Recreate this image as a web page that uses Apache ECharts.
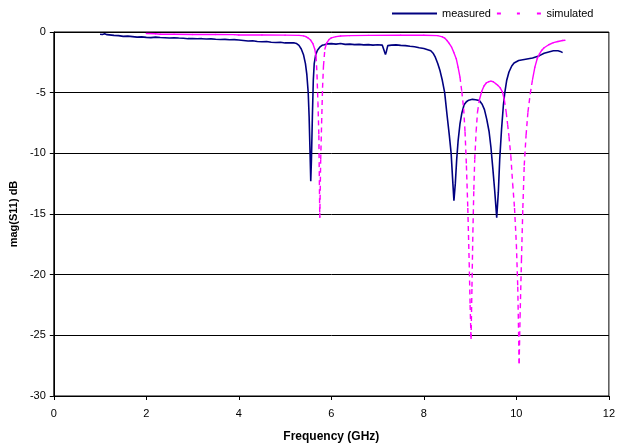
<!DOCTYPE html>
<html>
<head>
<meta charset="utf-8">
<script src="https://cdn.jsdelivr.net/npm/echarts@6/dist/echarts.min.js"></script>
<style>html,body{margin:0;padding:0;background:#fff}#c{width:618px;height:448px}</style>
</head>
<body>
<div id="c"></div>
<script>
// ---- data ----
var xTicks = [0, 2, 4, 6, 8, 10, 12];
var yTicks = [0, -5, -10, -15, -20, -25, -30];

var measFreq = [1.00,1.05,1.10,1.15,1.20,1.30,1.40,1.50,1.60,1.70,1.80,1.90,2.00,2.10,2.20,2.30,2.40,2.50,2.60,2.70,2.80,2.90,3.00,3.10,3.20,3.30,3.40,3.50,3.60,3.70,3.80,3.90,4.00,4.10,4.20,4.30,4.40,4.50,4.60,4.70,4.80,4.90,5.00,5.10,5.20,5.25,5.30,5.35,5.40,5.44,5.47,5.50,5.52,5.54,5.555,5.57,5.59,5.61,5.63,5.66,5.70,5.75,5.80,5.85,5.90,6.00,6.10,6.20,6.30,6.40,6.50,6.60,6.70,6.80,6.90,7.00,7.10,7.14,7.17,7.19,7.22,7.30,7.40,7.50,7.60,7.70,7.80,7.90,8.00,8.10,8.15,8.20,8.25,8.30,8.35,8.40,8.45,8.50,8.55,8.59,8.62,8.65,8.68,8.71,8.74,8.78,8.82,8.87,8.92,8.97,9.05,9.12,9.20,9.26,9.31,9.36,9.41,9.45,9.49,9.53,9.575,9.61,9.64,9.68,9.72,9.75,9.79,9.84,9.90,9.95,10.05,10.20,10.35,10.50,10.60,10.70,10.80,10.90,10.95,11.00];
var measDB = [-0.18,-0.20,-0.14,-0.22,-0.24,-0.28,-0.30,-0.36,-0.34,-0.38,-0.42,-0.40,-0.44,-0.46,-0.42,-0.45,-0.47,-0.49,-0.47,-0.50,-0.52,-0.55,-0.53,-0.56,-0.55,-0.58,-0.57,-0.60,-0.62,-0.61,-0.64,-0.63,-0.66,-0.70,-0.74,-0.72,-0.78,-0.80,-0.78,-0.84,-0.86,-0.84,-0.90,-0.88,-0.90,-0.95,-1.10,-1.40,-1.90,-2.60,-3.50,-5.00,-7.00,-10.0,-12.3,-10.5,-7.0,-4.0,-2.6,-1.9,-1.5,-1.25,-1.10,-1.05,-0.98,-0.96,-1.00,-0.95,-1.02,-1.00,-1.04,-1.02,-1.06,-1.04,-1.08,-1.05,-1.08,-1.20,-1.85,-1.60,-1.12,-1.08,-1.06,-1.10,-1.12,-1.18,-1.22,-1.30,-1.36,-1.48,-1.55,-1.75,-2.10,-2.60,-3.20,-4.00,-5.00,-6.80,-8.50,-10.0,-12.0,-13.9,-12.5,-10.5,-9.0,-7.6,-6.7,-6.0,-5.75,-5.62,-5.55,-5.58,-5.65,-5.95,-6.40,-7.20,-8.20,-9.50,-11.2,-13.0,-15.3,-13.2,-10.5,-8.0,-6.0,-5.0,-4.0,-3.3,-2.8,-2.55,-2.35,-2.25,-2.15,-1.95,-1.75,-1.65,-1.55,-1.55,-1.60,-1.70];

var simFreq = [2.00,2.20,2.30,2.60,3.00,3.50,3.90,4.00,4.50,5.00,5.30,5.40,5.45,5.50,5.55,5.60,5.64,5.67,5.69,5.71,5.73,5.75,5.77,5.79,5.81,5.83,5.86,5.90,5.95,6.00,6.10,6.20,6.40,6.80,7.50,8.00,8.30,8.40,8.45,8.50,8.55,8.60,8.65,8.70,8.74,8.78,8.82,8.86,8.89,8.92,8.95,8.98,9.00,9.02,9.04,9.06,9.08,9.10,9.13,9.16,9.20,9.25,9.30,9.35,9.40,9.45,9.50,9.55,9.60,9.65,9.70,9.74,9.78,9.81,9.84,9.88,9.92,9.96,10.00,10.03,10.06,10.08,10.11,10.14,10.17,10.21,10.25,10.30,10.35,10.40,10.45,10.50,10.55,10.60,10.70,10.80,10.90,11.00,11.05];
var simDB = [-0.12,-0.14,-0.18,-0.19,-0.20,-0.21,-0.22,-0.25,-0.25,-0.26,-0.28,-0.32,-0.38,-0.50,-0.66,-0.95,-1.40,-2.00,-3.50,-5.80,-8.50,-15.3,-10.5,-7.5,-4.6,-2.8,-1.4,-0.90,-0.62,-0.48,-0.38,-0.33,-0.30,-0.28,-0.27,-0.27,-0.30,-0.40,-0.50,-0.70,-0.95,-1.25,-1.70,-2.20,-2.90,-3.70,-4.90,-6.30,-8.20,-11.0,-14.5,-19.0,-22.5,-25.3,-21.0,-16.5,-13.0,-10.5,-8.2,-6.6,-5.6,-4.9,-4.45,-4.20,-4.10,-4.05,-4.10,-4.25,-4.40,-4.60,-4.95,-5.60,-6.60,-7.60,-8.60,-10.2,-12.5,-14.5,-17.5,-21.0,-27.3,-23.5,-18.8,-14.5,-11.0,-8.5,-6.6,-5.1,-3.9,-2.9,-2.2,-1.80,-1.50,-1.30,-1.05,-0.88,-0.78,-0.70,-0.68];

var seriesNames = ['measured', 'simulated'];

// ---- chart ----
var FONT = '"Liberation Sans", Arial, sans-serif';
var chart = echarts.init(document.getElementById('c'), null, {renderer: 'canvas'});

var measData = measFreq.map(function (f, i) { return [f, measDB[i]]; });
var simData = simFreq.map(function (f, i) { return [f, simDB[i]]; });

chart.setOption({
  animation: false,
  backgroundColor: '#fff',
  textStyle: {fontFamily: FONT},
  grid: {left: 53, right: 4, top: 32, bottom: 51, show: true, borderColor: '#000', borderWidth: 1, backgroundColor: 'transparent'},
  legend: {
    left: 392, top: 8, padding: 0, itemWidth: 45, itemHeight: 2, itemGap: 6,
    textStyle: {fontFamily: FONT, fontSize: 11, color: '#000'},
    data: [
      {name: seriesNames[0], icon: 'path://M0,0H45V2H0Z'},
      {name: seriesNames[1], icon: 'path://M0,0H4V2H0Z M20,0H23V2H20Z M40,0H44V2H40Z'}
    ]
  },
  xAxis: {
    type: 'value', min: xTicks[0], max: xTicks[xTicks.length - 1], interval: 2,
    name: 'Frequency (GHz)', nameLocation: 'middle', nameGap: 35,
    nameTextStyle: {fontFamily: FONT, fontSize: 12, fontWeight: 'bold', color: '#000'},
    axisLine: {show: true, onZero: false, lineStyle: {color: '#000', width: 1}},
    axisTick: {show: true, length: 4, lineStyle: {color: '#000'}},
    axisLabel: {fontFamily: FONT, fontSize: 11, color: '#000', margin: 12},
    splitLine: {show: false}
  },
  yAxis: {
    type: 'value', min: yTicks[yTicks.length - 1], max: yTicks[0], interval: 5,
    name: 'mag(S11) dB', nameLocation: 'middle', nameGap: 34,
    nameTextStyle: {fontFamily: FONT, fontSize: 11, fontWeight: 'bold', color: '#000'},
    axisLine: {show: true, onZero: false, lineStyle: {color: '#000', width: 1}},
    axisTick: {show: true, length: 4, lineStyle: {color: '#000'}},
    axisLabel: {fontFamily: FONT, fontSize: 11, color: '#000', margin: 8},
    splitLine: {show: true, lineStyle: {color: '#000', width: 1}}
  },
  series: [
    {
      name: seriesNames[0], type: 'line', data: measData, symbol: 'none',
      lineStyle: {color: '#000080', width: 1.6}, itemStyle: {color: '#000080'},
      z: 2
    },
    {
      name: seriesNames[1], type: 'custom', data: simData, clip: true,
      encode: {x: 0, y: 1}, itemStyle: {color: '#FF00FF'}, z: 3,
      renderItem: function (params, api) {
        var i = params.dataIndex;
        if (i >= simFreq.length - 1) return null;
        var p0 = api.coord([simFreq[i], simDB[i]]);
        var p1 = api.coord([simFreq[i + 1], simDB[i + 1]]);
        var dx = Math.abs(p1[0] - p0[0]), dy = Math.abs(p1[1] - p0[1]);
        var steep = dy > 6 * dx;
        return {
          type: 'line',
          shape: {x1: p0[0], y1: p0[1], x2: p1[0], y2: p1[1]},
          style: {stroke: '#FF00FF', lineWidth: 1.4, lineDash: steep ? [5, 4] : null, lineCap: steep ? 'butt' : 'round'}
        };
      }
    }
  ]
});
</script>
</body>
</html>
